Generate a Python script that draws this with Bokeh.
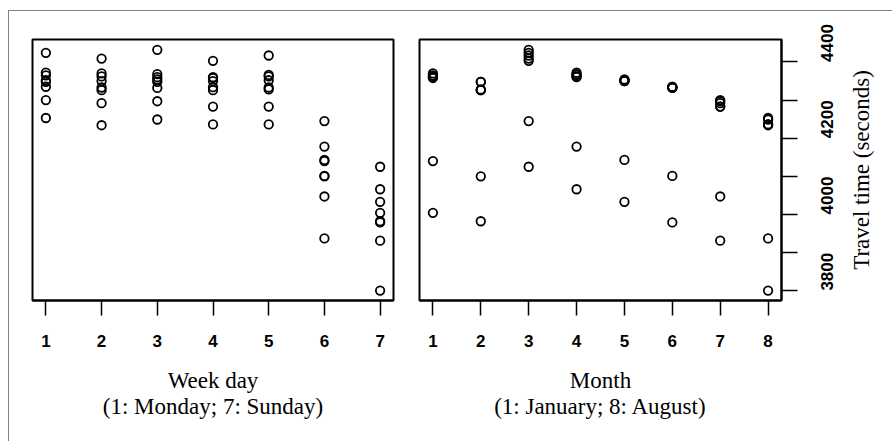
import math
from bokeh.plotting import figure
from bokeh.models import ColumnDataSource, FixedTicker, Range1d, Title
from bokeh.layouts import row
from bokeh.embed import file_html
from bokeh.resources import INLINE

# ---- data -------------------------------------------------------------
days = [1, 2, 3, 4, 5, 6, 7]
months = [1, 2, 3, 4, 5, 6, 7, 8]
# travel time (seconds) per weekday, one value per month (Jan..Aug)
monday    = [4365, 4348, 4424, 4372, 4352, 4335, 4300, 4253]
tuesday   = [4370, 4326, 4409, 4362, 4350, 4333, 4292, 4234]
wednesday = [4360, 4348, 4432, 4368, 4354, 4332, 4297, 4249]
thursday  = [4358, 4326, 4403, 4360, 4350, 4334, 4283, 4236]
friday    = [4362, 4328, 4417, 4366, 4352, 4333, 4283, 4236]
saturday  = [4140, 4100, 4245, 4178, 4143, 4101, 4047, 3937]
sunday    = [4004, 3982, 4125, 4066, 4033, 3979, 3931, 3800]
y_ticks = [3800, 3900, 4000, 4100, 4200, 4300, 4400]
y_labels = {3800: "3800", 3900: "", 4000: "4000", 4100: "", 4200: "4200", 4300: "", 4400: "4400"}

rows = [monday, tuesday, wednesday, thursday, friday, saturday, sunday]
xd, xm, yy = [], [], []
for d, vals in zip(days, rows):
    for m, v in zip(months, vals):
        xd.append(d)
        xm.append(m)
        yy.append(v)
src = ColumnDataSource(dict(day=xd, month=xm, t=yy))

TICK_FONT = "Liberation Sans"
SERIF = "Liberation Serif"
TOP, BOTTOM, H = 28, 141, 430


def style(p):
    p.xgrid.visible = False
    p.ygrid.visible = False
    p.outline_line_color = "black"
    p.outline_line_width = 2
    p.outline_line_alpha = 1
    p.background_fill_color = "white"
    p.border_fill_color = "white"


def style_xaxis(ax, label):
    ax.axis_line_color = "black"
    ax.axis_line_width = 2
    ax.major_tick_in = 0
    ax.major_tick_out = 15
    ax.major_tick_line_width = 1.5
    ax.major_tick_line_color = "black"
    ax.minor_tick_line_color = None
    ax.major_label_text_font = TICK_FONT
    ax.major_label_text_font_style = "bold"
    ax.major_label_text_font_size = "17px"
    ax.major_label_text_color = "black"
    ax.major_label_standoff = 19
    ax.axis_label = label
    ax.axis_label_text_font = SERIF
    ax.axis_label_text_font_style = "normal"
    ax.axis_label_text_font_size = "23px"
    ax.axis_label_text_color = "black"
    ax.axis_label_text_line_height = 1.05
    ax.axis_label_standoff = 18


yr = Range1d(3774, 4459)

p1 = figure(width=396, height=H, x_range=Range1d(0.76, 7.24), y_range=yr,
            output_backend="svg", toolbar_location=None, y_axis_location=None,
            min_border_left=23, min_border_right=12, min_border_top=TOP, min_border_bottom=BOTTOM)
style(p1)
p1.xaxis.ticker = FixedTicker(ticks=days)
style_xaxis(p1.xaxis[0], "Week day\n(1: Monday; 7: Sunday)")
p1.scatter("day", "t", source=src, marker="circle", size=8.5, fill_color=None,
           line_color="black", line_width=1.8)

p2 = figure(width=441, height=H, x_range=Range1d(0.72, 8.28), y_range=yr,
            output_backend="svg", toolbar_location=None, y_axis_location="right",
            min_border_left=14, min_border_right=65, min_border_top=TOP, min_border_bottom=BOTTOM)
style(p2)
p2.xaxis.ticker = FixedTicker(ticks=months)
style_xaxis(p2.xaxis[0], "Month\n(1: January; 8: August)")
ya = p2.yaxis[0]
ya.ticker = FixedTicker(ticks=y_ticks)
ya.major_label_overrides = y_labels
ya.axis_line_color = "black"
ya.axis_line_width = 2
ya.major_tick_in = 0
ya.major_tick_out = 16
ya.major_tick_line_width = 1.5
ya.minor_tick_line_color = None
ya.major_label_orientation = math.pi / 2
ya.major_label_text_font = TICK_FONT
ya.major_label_text_font_style = "bold"
ya.major_label_text_font_size = "17px"
ya.major_label_text_color = "black"
ya.major_label_standoff = 30
p2.scatter("month", "t", source=src, marker="circle", size=8.5, fill_color=None,
           line_color="black", line_width=1.8)

# narrow strip holding the vertical y title (reads bottom to top)
p3 = figure(width=46, height=H, x_range=Range1d(0, 1), y_range=yr,
            output_backend="svg", toolbar_location=None,
            x_axis_location=None, y_axis_location=None,
            min_border_left=0, min_border_right=0, min_border_top=TOP, min_border_bottom=BOTTOM)
p3.outline_line_color = None
p3.xgrid.visible = False
p3.ygrid.visible = False
p3.border_fill_color = "white"
p3.add_layout(Title(text="Travel time (seconds)", align="center", standoff=0,
                    text_font=SERIF, text_font_size="23px", text_font_style="normal",
                    text_color="black"), "left")

layout = row(p1, p2, p3, styles={"border-left": "1px solid #808080",
                                 "border-top": "1px solid #808080",
                                 "margin-left": "8px",
                                 "margin-top": "10px"})

open("out.html", "w").write(file_html(layout, INLINE))
